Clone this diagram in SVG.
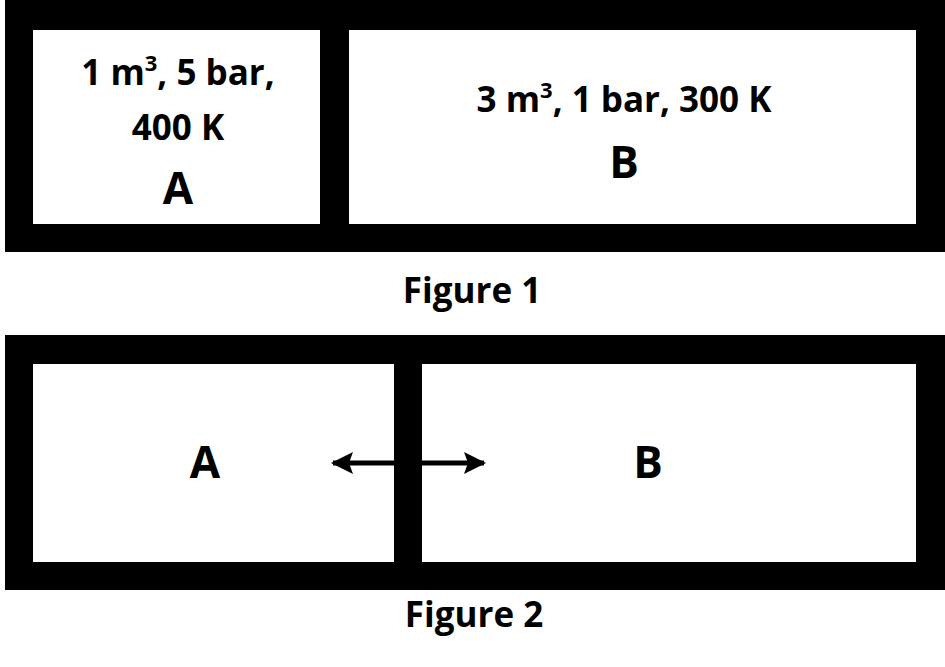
<svg xmlns="http://www.w3.org/2000/svg" width="945" height="667" viewBox="0 0 945 667">
<style>
.t{font-family:"Open Sans","Liberation Sans",sans-serif;font-weight:bold;fill:#000;text-anchor:middle}
.s{font-size:35px}.b{font-size:44px}
</style>
<defs><marker id="ah" markerWidth="24" markerHeight="24" refX="20" refY="12" orient="auto-start-reverse" markerUnits="userSpaceOnUse" viewBox="0 0 24 24"><path d="M0,1L22,12L0,23L4,12Z"/></marker></defs>
<rect width="945" height="667" fill="#fff"/>
<g id="fig1">
<rect x="5" y="0" width="940" height="252" fill="#000"/>
<rect x="33" y="30" width="287" height="194" fill="#fff"/>
<rect x="349" y="30" width="567" height="194" fill="#fff"/>
</g>
<g id="A1"><text class="t s" x="178" y="85">1 m<tspan dy="-14" font-size="22">3</tspan><tspan dy="14">, 5 bar,</tspan></text>
<text class="t s" x="178" y="140">400 K</text><text class="t b" x="178" y="204">A</text></g>
<g id="B1"><text class="t s" x="624" y="112">3 m<tspan dy="-14" font-size="22">3</tspan><tspan dy="14">, 1 bar, 300 K</tspan></text>
<text class="t b" x="624" y="178">B</text></g>
<text class="t s" x="472" y="303">Figure 1</text>
<g id="fig2">
<rect x="5" y="335" width="940" height="255" fill="#000"/>
<rect x="33" y="364" width="361" height="198" fill="#fff"/>
<rect x="422" y="364" width="494" height="198" fill="#fff"/>
</g>
<text class="t b" x="205" y="478">A</text>
<text class="t b" x="648" y="478">B</text>
<g id="connectors"><line x1="333" y1="463" x2="484" y2="463" stroke="#000" stroke-width="5" marker-start="url(#ah)" marker-end="url(#ah)"/></g>
<text class="t s" x="474" y="627">Figure 2</text>
</svg>
